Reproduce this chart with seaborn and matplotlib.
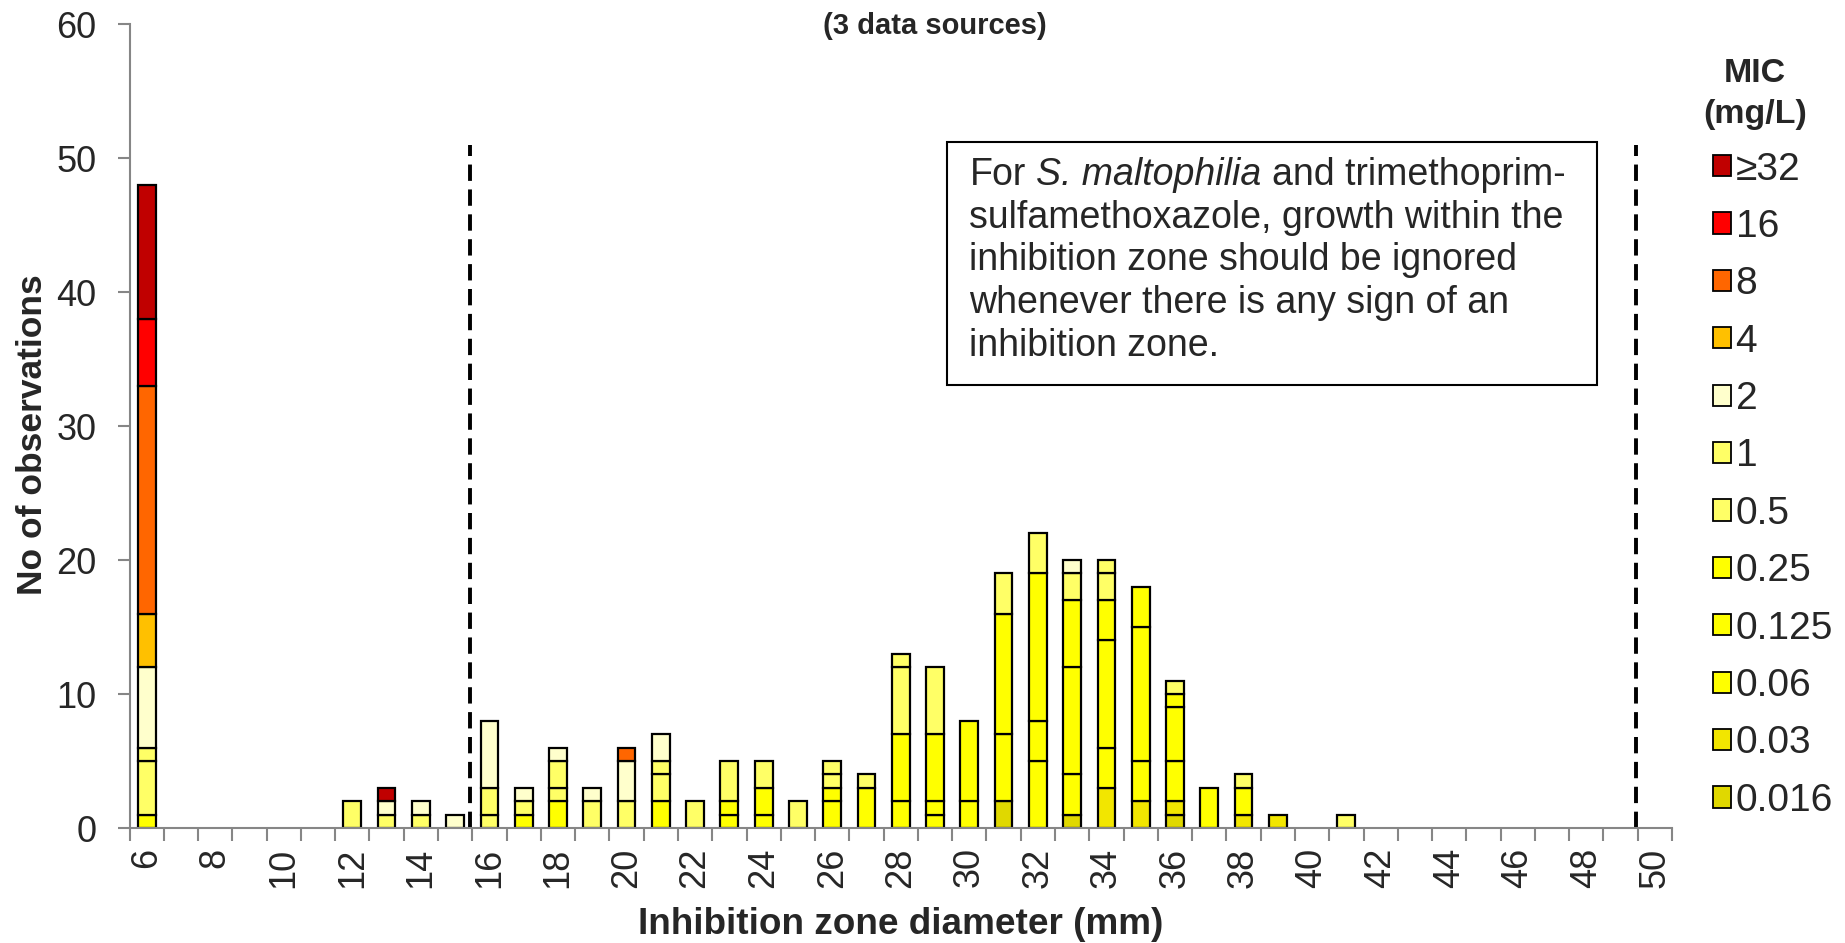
import numpy as np
import pandas as pd
import matplotlib
matplotlib.use("Agg")
import matplotlib.pyplot as plt
from matplotlib.patches import Patch, Rectangle
import seaborn as sns

# ---------------- data ----------------
zone_mm = [6, 12, 13, 14, 15, 16, 17, 18, 19, 20, 21, 22, 23, 24, 25,
           26, 27, 28, 29, 30, 31, 32, 33, 34, 35, 36, 37, 38, 39, 41]
mic_levels = ["≥32", "16", "8", "4", "2", "1", "0.5",
              "0.25", "0.125", "0.06", "0.03", "0.016"]
mic_colors = ["#C00000", "#FF0000", "#FF6600", "#FFC000", "#FFFFCC", "#FFFF66",
              "#FFFF66", "#FFFF00", "#FFFF00", "#FFFF00", "#F2E600", "#E0D800"]

n_ge32  = [10, 0, 1, 0, 0, 0, 0, 0, 0, 0, 0, 0, 0, 0, 0, 0, 0, 0, 0, 0, 0, 0, 0, 0, 0, 0, 0, 0, 0, 0]
n_16    = [5, 0, 0, 0, 0, 0, 0, 0, 0, 0, 0, 0, 0, 0, 0, 0, 0, 0, 0, 0, 0, 0, 0, 0, 0, 0, 0, 0, 0, 0]
n_8     = [17, 0, 0, 0, 0, 0, 0, 0, 0, 1, 0, 0, 0, 0, 0, 0, 0, 0, 0, 0, 0, 0, 0, 0, 0, 0, 0, 0, 0, 0]
n_4     = [4, 0, 0, 0, 0, 0, 0, 0, 0, 0, 0, 0, 0, 0, 0, 0, 0, 0, 0, 0, 0, 0, 0, 0, 0, 0, 0, 0, 0, 0]
n_2     = [6, 0, 1, 1, 1, 5, 1, 1, 1, 3, 2, 0, 0, 0, 0, 0, 0, 0, 0, 0, 0, 0, 1, 0, 0, 0, 0, 0, 0, 0]
n_1     = [1, 2, 1, 1, 0, 2, 0, 2, 0, 0, 1, 0, 0, 0, 0, 1, 0, 1, 0, 0, 0, 0, 0, 1, 0, 0, 0, 0, 0, 0]
n_0_5   = [4, 0, 0, 0, 0, 1, 1, 1, 2, 2, 2, 2, 3, 2, 2, 1, 1, 5, 5, 0, 3, 3, 2, 2, 0, 1, 0, 1, 0, 1]
n_0_25  = [1, 0, 0, 0, 0, 0, 1, 2, 0, 0, 2, 0, 1, 2, 0, 1, 3, 5, 5, 6, 9, 11, 5, 3, 3, 1, 3, 2, 0, 0]
n_0_125 = [0, 0, 0, 0, 0, 0, 0, 0, 0, 0, 0, 0, 1, 1, 0, 2, 0, 2, 1, 2, 5, 3, 8, 8, 10, 4, 0, 0, 0, 0]
n_0_06  = [0, 0, 0, 0, 0, 0, 0, 0, 0, 0, 0, 0, 0, 0, 0, 0, 0, 0, 1, 0, 0, 5, 3, 3, 3, 3, 0, 0, 0, 0]
n_0_03  = [0, 0, 0, 0, 0, 0, 0, 0, 0, 0, 0, 0, 0, 0, 0, 0, 0, 0, 0, 0, 0, 0, 0, 3, 2, 1, 0, 1, 1, 0]
n_0_016 = [0, 0, 0, 0, 0, 0, 0, 0, 0, 0, 0, 0, 0, 0, 0, 0, 0, 0, 0, 0, 2, 0, 1, 0, 0, 1, 0, 0, 0, 0]

x_tick_labels = [str(v) for v in range(6, 51, 2)]
y_ticks = [0, 10, 20, 30, 40, 50, 60]
breakpoints = [15.44, 49.44]

counts = [n_ge32, n_16, n_8, n_4, n_2, n_1, n_0_5, n_0_25, n_0_125, n_0_06, n_0_03, n_0_016]
rows = []
for lvl, arr in zip(mic_levels, counts):
    for z, c in zip(zone_mm, arr):
        rows.append({"zone": z, "mic": lvl, "n": c})
df = pd.DataFrame(rows)

# ---------------- style ----------------
sns.set_style("white")
plt.rcParams["font.family"] = ["Liberation Sans", "DejaVu Sans"]

W, H = 1845, 943
fig = plt.figure(figsize=(W / 100, H / 100), dpi=100)
fig.patch.set_facecolor("white")

ax_l, ax_r, ax_t, ax_b = 129.5, 1672.0, 24.0, 828.0
ax = fig.add_axes([ax_l / W, 1 - ax_b / H, (ax_r - ax_l) / W, (ax_b - ax_t) / H])

palette = dict(zip(mic_levels, mic_colors))
sns.histplot(data=df, x="zone", weights="n", hue="mic", hue_order=mic_levels,
             palette=palette, multiple="stack", discrete=True, shrink=0.52,
             alpha=1, edgecolor="black", linewidth=1.6, legend=False, ax=ax)

for p in ax.patches:
    if p.get_height() <= 0:
        p.set_visible(False)

gray = "#868686"
ax.set_xlim(5.5, 50.5)
ax.set_ylim(0, 60)
ax.set_xticks(np.arange(5.5, 51, 1))
ax.set_xticklabels([])
ax.set_xticks(np.arange(6, 51, 2), minor=True)
ax.set_xticklabels(x_tick_labels, minor=True, rotation=90, fontsize=26)
ax.tick_params(axis="x", which="major", direction="out", length=9, width=1.5,
               color=gray, bottom=True)
ax.tick_params(axis="x", which="minor", length=0, pad=14, bottom=True)
ax.set_yticks(y_ticks)
ax.set_yticklabels([str(v) for v in y_ticks], fontsize=26)
ax.tick_params(axis="y", direction="out", length=9, width=1.5, color=gray,
               pad=15, left=True)
ax.set_xlabel("")
ax.set_ylabel("")
for s in ["top", "right"]:
    ax.spines[s].set_visible(False)
for s in ["left", "bottom"]:
    ax.spines[s].set_color(gray)
    ax.spines[s].set_linewidth(1.5)

ax.vlines(breakpoints, 0, 51, colors="black", linewidth=2.8,
          linestyles=(0, (4.2, 2.2)))

# axis titles
fig.text(901 / W, 1 - 924 / H, "Inhibition zone diameter (mm)", ha="center",
         va="center", fontsize=26.6, fontweight="bold")
fig.text(33 / W, 1 - 435 / H, "No of observations", ha="center", va="center",
         rotation=90, fontsize=25.5, fontweight="bold")
fig.text(935 / W, 1 - 26 / H, "(3 data sources)", ha="center", va="center",
         fontsize=21, fontweight="bold")

# annotation box
fig.patches.append(Rectangle((947 / W, 1 - 385 / H), (1597 - 947) / W, (385 - 142) / H,
                             transform=fig.transFigure, facecolor="white",
                             edgecolor="black", linewidth=1.5, zorder=3))
renderer = fig.canvas.get_renderer()
note_fs = 27


def text_width(s, **kw):
    t = fig.text(0, 0, s, fontsize=note_fs, **kw)
    w = t.get_window_extent(renderer).width
    t.remove()
    return w


x0 = 969.5
baselines = [185, 228, 270.5, 313, 355.5]
# first line: mixed upright / italic
w_for = text_width("For x") - text_width("x")
w_ital = text_width("S. maltophilia x", style="italic") - text_width("x", style="italic")
fig.text(x0 / W, 1 - baselines[0] / H, "For", ha="left", va="baseline",
         fontsize=note_fs, zorder=4)
fig.text((x0 + w_for) / W, 1 - baselines[0] / H, "S. maltophilia", ha="left",
         va="baseline", fontsize=note_fs, style="italic", zorder=4)
fig.text((x0 + w_for + w_ital) / W, 1 - baselines[0] / H, "and trimethoprim-",
         ha="left", va="baseline", fontsize=note_fs, zorder=4)
note_lines = ["sulfamethoxazole, growth within the",
              "inhibition zone should be ignored",
              "whenever there is any sign of an",
              "inhibition zone."]
for line, yb in zip(note_lines, baselines[1:]):
    fig.text(x0 / W, 1 - yb / H, line, ha="left", va="baseline", fontsize=note_fs,
             zorder=4)

# legend
fig.text(1755 / W, 1 - 73 / H, "MIC", ha="center", va="center", fontsize=24.5,
         fontweight="bold")
fig.text(1755 / W, 1 - 114 / H, "(mg/L)", ha="center", va="center", fontsize=24.5,
         fontweight="bold")
handles = [Patch(facecolor=c, edgecolor="black", linewidth=1.3) for c in mic_colors]
fig.legend(handles, mic_levels, loc="upper left",
           bbox_to_anchor=(1713 / W, 1 - 151.5 / H), bbox_transform=fig.transFigure,
           frameon=False, fontsize=28, borderpad=0, borderaxespad=0,
           handlelength=0.46, handleheight=0.46, handletextpad=0.12,
           labelspacing=0.55)

fig.savefig("out.png", dpi=100, facecolor="white")
